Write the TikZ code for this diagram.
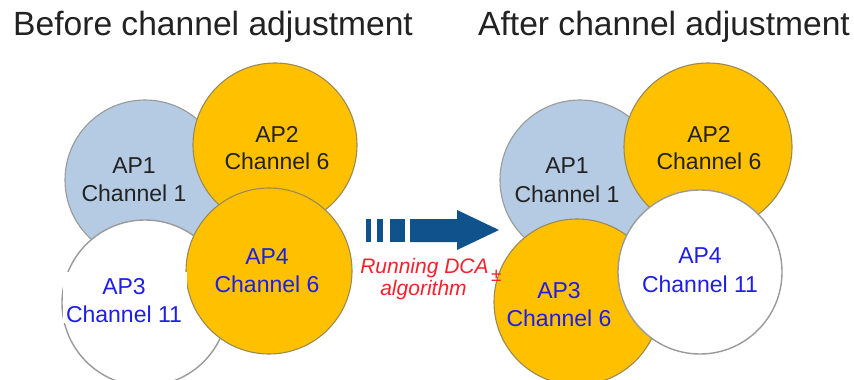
\documentclass[tikz,border=0pt]{standalone}
\usepackage{fontspec}
\setmainfont{Liberation Sans}
\definecolor{apblue}{HTML}{B4CBE3}
\definecolor{apyel}{HTML}{FFC000}
\definecolor{arrowblue}{HTML}{0F528C}
\definecolor{txtblue}{HTML}{1E1EE6}
\definecolor{txtdark}{HTML}{222222}
\definecolor{edgeyel}{HTML}{9A8A55}
\definecolor{edgegray}{HTML}{9A9A9A}
\definecolor{dcared}{HTML}{F5222D}
\tikzset{
  ap/.style={circle, inner sep=0pt, outer sep=0pt, minimum size=2*#1, line width=1.1pt},
  blueap/.style={ap=#1, fill=apblue, draw=edgegray},
  yelap/.style={ap=#1, fill=apyel, draw=edgeyel},
  whiteap/.style={ap=#1, fill=white, draw=edgegray, line width=1.4pt},
  aptext/.style={anchor=base, inner sep=0pt, font=\fontsize{23}{28}\selectfont},
  darktext/.style={aptext, text=txtdark},
  bluetext/.style={aptext, text=txtblue},
  titletext/.style={anchor=base west, inner sep=0pt, text=txtdark, font=\fontsize{33.6}{40}\selectfont},
  redtext/.style={anchor=base, inner sep=0pt, text=dcared, font=\fontsize{21}{26}\selectfont\itshape},
}
\begin{document}
\begin{tikzpicture}[x={(1pt,0pt)}, y={(0pt,-1pt)}]
\fill[white] (0,0) rectangle (854,380);
\useasboundingbox (0,0) rectangle (854,380);

% titles
\node (tb) [titletext] at (13,35) {Before channel adjustment};
\node (ta) [titletext] at (478,35) {After channel adjustment};

% ---- before ----
\node (L1) [blueap=80] at (145,180) {};
\node (L2) [yelap=82] at (275,145) {};
\node (L3) [whiteap=83] at (145,303) {};
\node (L4) [yelap=83] at (269,271) {};
\fill[white] (63,272) rectangle (187,323);
\node (L1a) [darktext] at (134,173) {AP1};
\node (L1b) [darktext] at (134,201) {Channel 1};
\node (L2a) [darktext] at (277,142) {AP2};
\node (L2b) [darktext] at (277,169) {Channel 6};
\node (L3a) [bluetext] at (124,294) {AP3};
\node (L3b) [bluetext] at (124,322) {Channel 11};
\node (L4a) [bluetext] at (267,264) {AP4};
\node (L4b) [bluetext] at (267,292) {Channel 6};

% ---- after ----
\node (R1) [blueap=80] at (580,180) {};
\node (R2) [yelap=84] at (708,147) {};
\node (R3) [yelap=83] at (577,302) {};
\node (R4) [whiteap=82] at (700,272) {};
\node (R1a) [darktext] at (567,173) {AP1};
\node (R1b) [darktext] at (567,202) {Channel 1};
\node (R2a) [darktext] at (709,142) {AP2};
\node (R2b) [darktext] at (709,169) {Channel 6};
\node (R3a) [bluetext] at (559,298) {AP3};
\node (R3b) [bluetext] at (559,326) {Channel 6};
\node (R4a) [bluetext] at (700,263) {AP4};
\node (R4b) [bluetext] at (700,292) {Channel 11};

% ---- arrow ----
\fill[arrowblue] (366,219) rectangle (371,242);
\fill[arrowblue] (377,219) rectangle (383,242);
\fill[arrowblue] (390,219) rectangle (405,242);
\fill[arrowblue] (410,219) -- (457,219) -- (457,210) -- (499,230) -- (457,250) -- (457,242) -- (410,242) -- cycle;

\node (d1) [redtext] at (424.5,273) {Running DCA};
\node (d2) [redtext] at (423.5,295) {algorithm};
\node (d3) [anchor=base west, inner sep=0pt, text=dcared, font=\fontsize{19}{22}\selectfont] at (491,281) {±};
\end{tikzpicture}
\end{document}
